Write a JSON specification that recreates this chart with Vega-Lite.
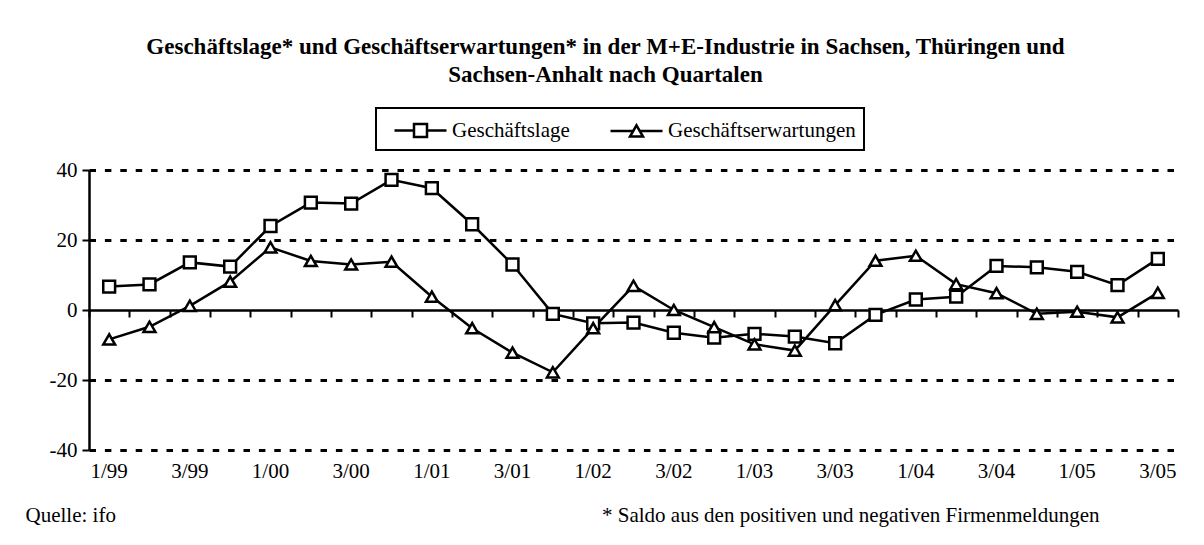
{
  "$schema": "https://vega.github.io/schema/vega-lite/v6.json",
  "autosize": "none",
  "width": 1089,
  "height": 280,
  "padding": {"left": 89, "top": 170, "right": 26, "bottom": 95},
  "background": "white",
  "title": {
    "text": ["Geschäftslage* und Geschäftserwartungen* in der M+E-Industrie in Sachsen, Thüringen und", "Sachsen-Anhalt nach Quartalen"],
    "font": "Liberation Serif",
    "fontSize": 23,
    "fontWeight": "bold",
    "color": "black",
    "lineHeight": 28,
    "anchor": "middle",
    "dx": -28,
    "offset": 20
  },
  "data": {
    "values": [
      {"q": "1/99", "series": "Geschäftslage", "value": 6.7},
      {"q": "2/99", "series": "Geschäftslage", "value": 7.3},
      {"q": "3/99", "series": "Geschäftslage", "value": 13.6},
      {"q": "4/99", "series": "Geschäftslage", "value": 12.4},
      {"q": "1/00", "series": "Geschäftslage", "value": 24.0},
      {"q": "2/00", "series": "Geschäftslage", "value": 30.7},
      {"q": "3/00", "series": "Geschäftslage", "value": 30.4},
      {"q": "4/00", "series": "Geschäftslage", "value": 37.2},
      {"q": "1/01", "series": "Geschäftslage", "value": 34.8},
      {"q": "2/01", "series": "Geschäftslage", "value": 24.5},
      {"q": "3/01", "series": "Geschäftslage", "value": 13.0},
      {"q": "4/01", "series": "Geschäftslage", "value": -1.1},
      {"q": "1/02", "series": "Geschäftslage", "value": -3.8},
      {"q": "2/02", "series": "Geschäftslage", "value": -3.6},
      {"q": "3/02", "series": "Geschäftslage", "value": -6.5},
      {"q": "4/02", "series": "Geschäftslage", "value": -7.9},
      {"q": "1/03", "series": "Geschäftslage", "value": -6.8},
      {"q": "2/03", "series": "Geschäftslage", "value": -7.6},
      {"q": "3/03", "series": "Geschäftslage", "value": -9.5},
      {"q": "4/03", "series": "Geschäftslage", "value": -1.4},
      {"q": "1/04", "series": "Geschäftslage", "value": 3.0},
      {"q": "2/04", "series": "Geschäftslage", "value": 3.8},
      {"q": "3/04", "series": "Geschäftslage", "value": 12.6},
      {"q": "4/04", "series": "Geschäftslage", "value": 12.2},
      {"q": "1/05", "series": "Geschäftslage", "value": 10.9},
      {"q": "2/05", "series": "Geschäftslage", "value": 7.1},
      {"q": "3/05", "series": "Geschäftslage", "value": 14.6},
      {"q": "1/99", "series": "Geschäftserwartungen", "value": -8.4},
      {"q": "2/99", "series": "Geschäftserwartungen", "value": -4.8},
      {"q": "3/99", "series": "Geschäftserwartungen", "value": 1.2},
      {"q": "4/99", "series": "Geschäftserwartungen", "value": 8.1},
      {"q": "1/00", "series": "Geschäftserwartungen", "value": 17.9},
      {"q": "2/00", "series": "Geschäftserwartungen", "value": 14.0},
      {"q": "3/00", "series": "Geschäftserwartungen", "value": 13.0},
      {"q": "4/00", "series": "Geschäftserwartungen", "value": 13.8},
      {"q": "1/01", "series": "Geschäftserwartungen", "value": 3.8},
      {"q": "2/01", "series": "Geschäftserwartungen", "value": -5.2},
      {"q": "3/01", "series": "Geschäftserwartungen", "value": -12.2},
      {"q": "4/01", "series": "Geschäftserwartungen", "value": -17.8},
      {"q": "1/02", "series": "Geschäftserwartungen", "value": -5.2},
      {"q": "2/02", "series": "Geschäftserwartungen", "value": 6.9},
      {"q": "3/02", "series": "Geschäftserwartungen", "value": 0.0},
      {"q": "4/02", "series": "Geschäftserwartungen", "value": -4.9},
      {"q": "1/03", "series": "Geschäftserwartungen", "value": -9.8},
      {"q": "2/03", "series": "Geschäftserwartungen", "value": -11.6},
      {"q": "3/03", "series": "Geschäftserwartungen", "value": 1.4},
      {"q": "4/03", "series": "Geschäftserwartungen", "value": 14.1},
      {"q": "1/04", "series": "Geschäftserwartungen", "value": 15.5},
      {"q": "2/04", "series": "Geschäftserwartungen", "value": 7.4},
      {"q": "3/04", "series": "Geschäftserwartungen", "value": 4.8},
      {"q": "4/04", "series": "Geschäftserwartungen", "value": -1.1},
      {"q": "1/05", "series": "Geschäftserwartungen", "value": -0.5},
      {"q": "2/05", "series": "Geschäftserwartungen", "value": -2.1},
      {"q": "3/05", "series": "Geschäftserwartungen", "value": 4.9}
    ]
  },
  "layer": [
    {
      "mark": {"type": "line", "color": "black", "strokeWidth": 2.5},
      "encoding": {
        "x": {
          "field": "q", "type": "ordinal", "sort": null,
          "scale": {"type": "band", "paddingInner": 0, "paddingOuter": 0},
          "axis": {
            "orient": "bottom",
            "title": "* Saldo aus den positiven und negativen Firmenmeldungen",
            "titleFont": "Liberation Serif", "titleFontSize": 21, "titleFontWeight": "normal", "titleColor": "black",
            "titleAnchor": null, "titleAlign": "right", "titleBaseline": "middle", "titleX": 1010, "titleY": 65,
            "values": ["1/99","3/99","1/00","3/00","1/01","3/01","1/02","3/02","1/03","3/03","1/04","3/04","1/05","3/05"],
            "domain": false, "ticks": false, "tickSize": 0, "grid": false,
            "labelAngle": 0, "labelPadding": 21, "labelFont": "Liberation Serif", "labelFontSize": 21, "labelColor": "black", "labelBaseline": "middle"
          }
        },
        "y": {
          "field": "value", "type": "quantitative",
          "scale": {"domain": [-40, 40], "nice": false},
          "axis": {
            "values": [-40, -20, 0, 20, 40],
            "labelExpr": "toString(datum.value)",
            "title": "Quelle: ifo",
            "titleAngle": 0, "titleAnchor": null, "titleAlign": "left", "titleBaseline": "middle",
            "titleX": -64, "titleY": 345,
            "titleFont": "Liberation Serif", "titleFontSize": 21, "titleFontWeight": "normal", "titleColor": "black",
            "domainColor": "black", "domainWidth": 2.5,
            "tickColor": "black", "tickWidth": 2, "tickSize": 7,
            "labelPadding": 5, "labelFont": "Liberation Serif", "labelFontSize": 21, "labelColor": "black",
            "grid": true, "gridColor": "black", "gridWidth": 3,
            "gridDash": [6.5, 8.9],
            "gridOpacity": {"condition": {"test": "datum.value === 0", "value": 0}, "value": 1}
          }
        },
        "detail": {"field": "series"}
      }
    },
    {
      "mark": {"type": "point", "filled": true, "fill": "white", "stroke": "black", "strokeWidth": 2.5, "size": 140, "opacity": 1},
      "encoding": {
        "x": {
          "field": "q", "type": "ordinal", "sort": null,
          "axis": {
            "orient": "bottom", "offset": -140, "title": null,
            "labels": false, "grid": false,
            "domain": true, "domainColor": "black", "domainWidth": 2.5,
            "ticks": true, "tickBand": "extent", "tickColor": "black", "tickWidth": 2, "tickSize": 7
          }
        },
        "y": {"field": "value", "type": "quantitative"},
        "shape": {
          "field": "series", "type": "nominal",
          "scale": {"domain": ["Geschäftslage", "Geschäftserwartungen"], "range": ["square", "triangle-up"]},
          "legend": null
        }
      }
    },
    {
      "transform": [{"filter": "datum.value > 1000"}],
      "mark": {"type": "point", "filled": false, "stroke": "black", "strokeWidth": 2.5},
      "encoding": {
        "x": {"field": "q", "type": "ordinal", "sort": null, "axis": null},
        "y": {"field": "value", "type": "quantitative"},
        "shape": {
          "field": "series", "type": "nominal",
          "scale": {
            "domain": ["Geschäftslage", "Geschäftserwartungen"],
            "range": [
              "M-2,0H-0.5M0.5,0H2M-0.5,-0.5H0.5V0.5H-0.5Z",
              "M-2,0H-0.25M0.25,0H2M0,-0.433L0.5,0.433L-0.5,0.433Z"
            ]
          },
          "legend": {
            "orient": "none", "legendX": 287, "legendY": -62,
            "direction": "horizontal", "title": null,
            "strokeColor": "black", "fillColor": "white", "padding": 8,
            "symbolOffset": 22, "symbolSize": 676, "symbolStrokeWidth": 2.5,
            "symbolStrokeColor": "black", "symbolFillColor": "white", "symbolOpacity": 1,
            "labelFont": "Liberation Serif", "labelFontSize": 21, "labelColor": "black",
            "labelOffset": 17, "columnPadding": 30, "labelLimit": 400,
            "encode": {
              "symbols": {
                "update": {
                  "stroke": {"value": "black"},
                  "fill": {"value": "white"},
                  "strokeWidth": {"value": 2.5},
                  "opacity": {"value": 1}
                }
              }
            }
          }
        }
      }
    }
  ],
  "resolve": {"axis": {"x": "independent"}, "scale": {"shape": "independent"}},
  "config": {
    "font": "Liberation Serif",
    "view": {"stroke": null},
    "legend": {"strokeWidth": 2}
  }
}
